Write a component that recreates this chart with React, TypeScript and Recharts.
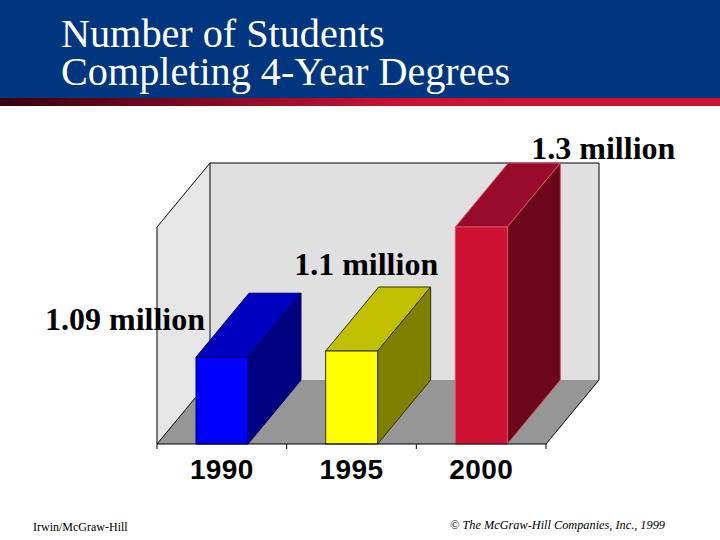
import React from 'react';
import { BarChart, Bar, XAxis, YAxis, LabelList, usePlotArea } from 'recharts';

const years = ['1990', '1995', '2000'];
const students = [1.09, 1.1, 1.3];
const valueLabels = ['1.09 million', '1.1 million', '1.3 million'];

const data = years.map((year, i) => ({ year, students: students[i], label: valueLabels[i] }));

// face colours per bar
const frontColors = ['#0000ff', '#ffff00', '#cc1133'];
const topColors = ['#0000c0', '#c0c000', '#990b2b'];
const sideColors = ['#000080', '#808000', '#6b0718'];
const edgeColors = ['#000060', '#333300', '#d8506a'];

// 3D offset of the box, back plane relative to front plane
const DEPTH_X = 53;
const DEPTH_Y = 64;

// label placement relative to top centre of each bar
const labelDx = [-97, 14.5, 122];
const labelDy = [-27, -76, -68];

function Walls() {
  const plot = usePlotArea();
  if (!plot) return null;
  const { x, y, width, height } = plot;
  const right = x + width;
  const bottom = y + height;
  const backX = x + DEPTH_X;
  const backRight = right + DEPTH_X;
  const backTop = y - DEPTH_Y;
  const backBottom = bottom - DEPTH_Y;
  const ticks = years.length + 1;
  return (
    <g>
      <polygon points={`${x},${y} ${backX},${backTop} ${backX},${backBottom} ${x},${bottom}`} fill="#e6e6e6" />
      <rect x={backX} y={backTop} width={width} height={height} fill="#e0e0e0" />
      <polygon points={`${x},${bottom} ${backX},${backBottom} ${backRight},${backBottom} ${right},${bottom}`} fill="#969696" />
      <path
        d={`M${x},${bottom} L${x},${y} L${backX},${backTop} L${backRight},${backTop} L${backRight},${backBottom} L${right},${bottom} M${backX},${backTop} L${backX},${backBottom} L${x},${bottom}`}
        fill="none"
        stroke="#000"
        strokeWidth={1}
      />
      {Array.from({ length: ticks }).map((_, i) => {
        const tx = x + (width * i) / (ticks - 1);
        return <line key={i} x1={tx} x2={tx} y1={bottom} y2={bottom + 5} stroke="#000" />;
      })}
    </g>
  );
}

function Box3D(props: any) {
  const { x, y, width, height, index } = props;
  const edge = edgeColors[index];
  return (
    <g stroke={edge} strokeWidth={1} strokeLinejoin="round">
      <polygon
        points={`${x},${y} ${x + DEPTH_X},${y - DEPTH_Y} ${x + width + DEPTH_X},${y - DEPTH_Y} ${x + width},${y}`}
        fill={topColors[index]}
      />
      <polygon
        points={`${x + width},${y} ${x + width + DEPTH_X},${y - DEPTH_Y} ${x + width + DEPTH_X},${y + height - DEPTH_Y} ${x + width},${y + height}`}
        fill={sideColors[index]}
      />
      <rect x={x} y={y} width={width} height={height} fill={frontColors[index]} />
    </g>
  );
}

function ValueLabel(props: any) {
  const { x, y, width, index, value } = props;
  return (
    <text
      x={x + width / 2 + labelDx[index]}
      y={y + labelDy[index]}
      textAnchor="middle"
      fontFamily="'Liberation Serif', serif"
      fontWeight="bold"
      fontSize={32}
      fill="#000"
    >
      {value}
    </text>
  );
}

export default function App() {
  return (
    <div style={{ position: 'absolute', left: 0, top: 0, width: 720, height: 540, background: '#fff', overflow: 'hidden' }}>
      <div style={{ position: 'absolute', left: 0, top: 0, width: 720, height: 98, background: '#003580' }} />
      <div
        style={{
          position: 'absolute',
          left: 0,
          top: 98,
          width: 720,
          height: 8,
          background: 'linear-gradient(to right, #38000e 0%, #cc1133 55%, #cc1133 100%)',
        }}
      />
      <div
        style={{
          position: 'absolute',
          left: 61,
          top: 15,
          color: '#fff',
          fontFamily: "'Liberation Serif', serif",
          fontSize: 40.2,
          lineHeight: '38px',
          whiteSpace: 'pre',
        }}
      >
        {'Number of Students\nCompleting 4-Year Degrees'}
      </div>

      <div style={{ position: 'absolute', left: 0, top: 0 }}>
        <BarChart
          width={720}
          height={540}
          data={data}
          margin={{ top: 227, right: 174, left: 157, bottom: 56 }}
          barSize={52}
        >
          <Walls />
          <XAxis
            dataKey="year"
            height={40}
            tickLine={false}
            axisLine={{ stroke: '#000' }}
            tickMargin={9}
            tick={{ fontFamily: "'Liberation Sans', sans-serif", fontWeight: 'bold', fontSize: 28, fill: '#000', letterSpacing: 0.4 }}
          />
          <YAxis hide domain={[0.95, 1.3]} allowDataOverflow={false} />
          <Bar dataKey="students" shape={Box3D} isAnimationActive={false}>
            <LabelList dataKey="label" content={ValueLabel} />
          </Bar>
        </BarChart>
      </div>

      <div style={{ position: 'absolute', left: 33, top: 520, fontFamily: "'Liberation Serif', serif", fontSize: 12, color: '#000' }}>
        Irwin/McGraw-Hill
      </div>
      <div style={{ position: 'absolute', left: 450, top: 518, fontFamily: "'Liberation Serif', serif", fontStyle: 'italic', fontSize: 12.3, color: '#000' }}>
        © The McGraw-Hill Companies, Inc., 1999
      </div>
    </div>
  );
}
